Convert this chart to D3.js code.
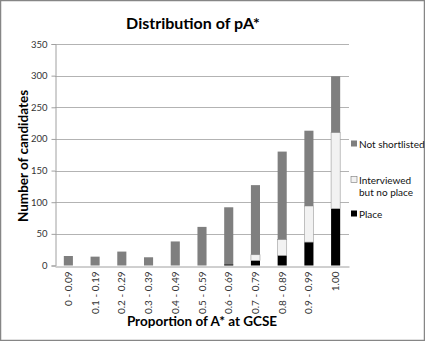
<!DOCTYPE html>
<html>
<head>
<meta charset="utf-8">
<script src="https://cdn.jsdelivr.net/npm/d3@7"></script>
<style>
  html, body { margin: 0; padding: 0; background: #fff; }
  svg { display: block; }
</style>
</head>
<body>
<svg id="chart" width="425" height="341"></svg>
<script>
// Proportion-of-A* bands and the candidate counts in each outcome group
const categories = ["0 - 0.09", "0.1 - 0.19", "0.2 - 0.29", "0.3 - 0.39", "0.4 - 0.49",
                    "0.5 - 0.59", "0.6 - 0.69", "0.7 - 0.79", "0.8 - 0.89", "0.9 - 0.99", "1.00"];
const place          = [0, 0, 0, 0, 0, 0, 2, 8, 16, 37, 90];
const interviewed    = [0, 0, 0, 0, 0, 0, 0, 9, 25, 57, 120];
const notShortlisted = [15, 14, 22, 13, 38, 61, 90, 110, 139, 119, 89];
const yTicks = [0, 50, 100, 150, 200, 250, 300, 350];

const seriesNames  = ["Place", "Interviewed but no place", "Not shortlisted"];
const seriesColors = ["#000000", "#f2f2f2", "#7f7f7f"];

const rows = categories.map((c, i) => ({
  cat: c,
  "Place": place[i],
  "Interviewed but no place": interviewed[i],
  "Not shortlisted": notShortlisted[i]
}));

const svg = d3.select("#chart");
const W = 425, H = 341;
const font = "Lato, 'Open Sans', sans-serif";

// outer frame
svg.append("rect").attr("x", 0.5).attr("y", 0.5).attr("width", W - 1).attr("height", H - 1)
  .attr("fill", "#fff").attr("stroke", "#868686").attr("stroke-width", 1.5);

const plot = { left: 55, right: 349, top: 44, bottom: 265.5 };

const x = d3.scaleBand().domain(categories).range([plot.left, plot.right]).paddingInner(0.66).paddingOuter(0.33);
const y = d3.scaleLinear().domain([0, 350]).range([plot.bottom, plot.top]);

// gridlines
svg.append("g").selectAll("line").data(yTicks.filter(t => t > 0)).join("line")
  .attr("x1", plot.left).attr("x2", plot.right)
  .attr("y1", d => Math.round(y(d)) + 0.5).attr("y2", d => Math.round(y(d)) + 0.5)
  .attr("stroke", "#b3b3b3").attr("stroke-width", 1);

// y axis
const yAxis = svg.append("g").attr("transform", `translate(${plot.left + 0.5},0)`)
  .call(d3.axisLeft(y).tickValues(yTicks).tickSize(4).tickPadding(4));
yAxis.select(".domain").attr("stroke", "#a0a0a0");
yAxis.selectAll(".tick line").attr("stroke", "#a0a0a0");
yAxis.selectAll(".tick text").attr("font-family", font).attr("font-size", 9.5).attr("fill", "#333");

// stacked bars
const stack = d3.stack().keys(seriesNames)(rows);
svg.append("g").selectAll("g").data(stack).join("g")
  .attr("fill", (d, i) => seriesColors[i])
  .attr("stroke", (d, i) => i === 1 ? "#9a9a9a" : "none")
  .attr("stroke-width", 0.6)
  .selectAll("rect").data(d => d.filter(s => s[1] - s[0] > 0)).join("rect")
  .attr("x", d => x(d.data.cat))
  .attr("width", x.bandwidth())
  .attr("y", d => y(d[1]))
  .attr("height", d => y(d[0]) - y(d[1]));

// x axis
const xAxis = svg.append("g").attr("transform", `translate(0,${Math.round(plot.bottom) + 0.5})`)
  .call(d3.axisBottom(x).tickSize(0).tickPadding(0));
xAxis.select(".domain").attr("stroke", "#a0a0a0");
xAxis.selectAll(".tick text")
  .attr("font-family", font).attr("font-size", 10).attr("fill", "#333")
  .attr("transform", "rotate(-90)")
  .attr("text-anchor", "end")
  .attr("dy", "0.35em")
  .attr("x", -5).attr("y", 0);

// title and axis titles
svg.append("text").attr("x", 193).attr("y", 29).attr("text-anchor", "middle")
  .attr("font-family", font).attr("font-weight", "bold").attr("font-size", 16).attr("fill", "#000")
  .text("Distribution of pA*");
svg.append("text").attr("transform", "translate(28,156) rotate(-90)").attr("text-anchor", "middle")
  .attr("font-family", font).attr("font-weight", "bold").attr("font-size", 13.5).attr("fill", "#000")
  .text("Number of candidates");
svg.append("text").attr("x", 202).attr("y", 326).attr("text-anchor", "middle")
  .attr("font-family", font).attr("font-weight", "bold").attr("font-size", 13.5).attr("fill", "#000")
  .text("Proportion of A* at GCSE");

// legend
const legend = [
  { name: "Not shortlisted", color: seriesColors[2], lines: ["Not shortlisted"], y: 144 },
  { name: "Interviewed but no place", color: seriesColors[1], lines: ["Interviewed", "but no place"], y: 180 },
  { name: "Place", color: seriesColors[0], lines: ["Place"], y: 214 }
];
const lg = svg.append("g").selectAll("g").data(legend).join("g");
lg.append("rect").attr("x", 351).attr("y", d => d.y - 3.5).attr("width", 6).attr("height", 6)
  .attr("fill", d => d.color).attr("stroke", d => d.name === "Interviewed but no place" ? "#777" : "none")
  .attr("stroke-width", 0.6);
lg.each(function(d) {
  const t = d3.select(this).append("text").attr("font-family", font).attr("font-size", 10).attr("fill", "#111");
  d.lines.forEach((l, i) => t.append("tspan").attr("x", 359).attr("y", d.y + 3.5 + i * 12.5).text(l));
});
</script>
</body>
</html>
